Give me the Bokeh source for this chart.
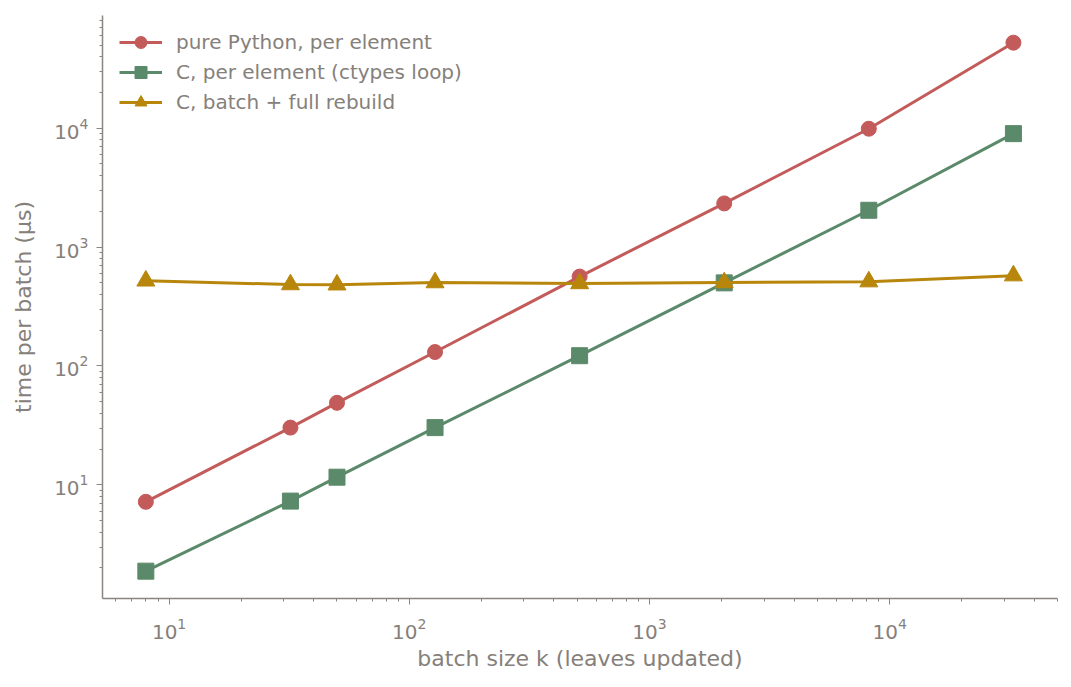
from bokeh.plotting import figure
from bokeh.models import Range1d, Legend, LegendItem
from bokeh.embed import file_html
from bokeh.resources import INLINE

# batch sizes and timings (microseconds per batch)
k = [8, 32, 50, 128, 512, 2048, 8192, 32768]
py_elem = [7.2, 30.3, 49.0, 131, 565, 2330, 9900, 52400]
c_elem = [1.88, 7.3, 11.6, 30.3, 122, 500, 2040, 9000]
c_batch = [520, 484, 482, 503, 494, 503, 512, 575]

series = [
    ("pure Python, per element", py_elem, "#c45b5b", "circle", 15),
    ("C, per element (ctypes loop)", c_elem, "#5a8a69", "square", 16),
    ("C, batch + full rebuild", c_batch, "#b8860b", "triangle", 18),
]

AX = "#8a8581"
TXT = "#86807b"
FONT = "DejaVu Sans"

p = figure(width=1063, height=679, x_axis_type="log", y_axis_type="log",
           x_range=Range1d(5.28, 50000), y_range=Range1d(1.107, 88700),
           output_backend="svg", toolbar_location=None,
           min_border_left=102, min_border_top=15, min_border_right=6, min_border_bottom=81)
p.outline_line_color = None
p.xgrid.visible = False
p.ygrid.visible = False

items = []
for name, ys, col, mk, sz in series:
    l = p.line(k, ys, line_color=col, line_width=3)
    s = p.scatter(k, ys, marker=mk, size=sz, fill_color=col, line_color=col)
    items.append(LegendItem(label=name, renderers=[l, s]))

# legend markers are drawn at 0.4 * glyph box height
legend = Legend(items=items, location=(17, 481))
legend.background_fill_alpha = 0
legend.border_line_color = None
legend.margin = 0
legend.padding = 0
legend.spacing = 0
legend.glyph_width = 43
legend.glyph_height = 30
legend.label_standoff = 14
legend.label_text_font = FONT
legend.label_text_font_size = "20px"
legend.label_text_color = TXT
p.add_layout(legend)

for ax in (p.xaxis, p.yaxis):
    ax.axis_line_color = AX
    ax.axis_line_width = 1.5
    ax.major_tick_line_color = AX
    ax.minor_tick_line_color = AX
    ax.major_tick_out = 6
    ax.major_tick_in = 0
    ax.minor_tick_out = 3
    ax.minor_tick_in = 0
    ax.major_label_text_font = FONT
    ax.major_label_text_font_size = "20px"
    ax.major_label_text_color = TXT
    ax.axis_label_text_font = FONT
    ax.axis_label_text_font_size = "22px"
    ax.axis_label_text_font_style = "normal"
    ax.axis_label_text_color = TXT

p.xaxis.axis_label = "batch size k (leaves updated)"
p.yaxis.axis_label = "time per batch (μs)"
p.xaxis.major_label_standoff = 13
p.xaxis.axis_label_standoff = 4
p.yaxis.major_label_standoff = 8
p.yaxis.axis_label_standoff = 15

open("out.html", "w").write(file_html(p, INLINE))
